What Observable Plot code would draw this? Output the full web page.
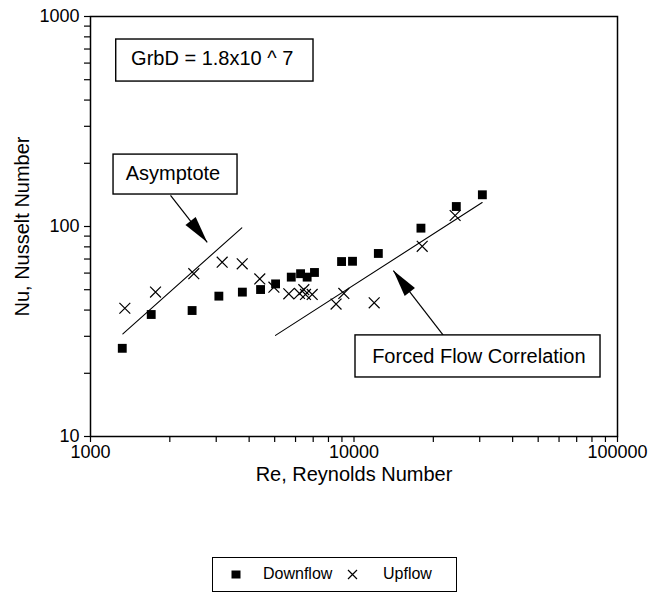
<!DOCTYPE html>
<html>
<head>
<meta charset="utf-8">
<script src="https://cdn.jsdelivr.net/npm/d3@7"></script>
<script src="https://cdn.jsdelivr.net/npm/@observablehq/plot@0.6"></script>
<style>
  html, body { margin: 0; padding: 0; background: #fff; }
  body { width: 664px; font-family: "Liberation Sans", Arial, Helvetica, sans-serif; }
  #legend { position: relative; margin: 57px 0 0 212px; width: 245px; height: 35px; border: 1.3px solid #000; box-sizing: border-box; font-size: 16px; color: #000; }
  #legend .t { position: absolute; top: 7px; }
  #legend svg { position: absolute; }
</style>
</head>
<body>
<div id="chart"></div>
<div id="legend">
  <svg style="left:18px;top:12px" width="10" height="9"><rect x="0.5" y="0.5" width="9" height="8" fill="#000"/></svg>
  <span class="t" style="left:50px">Downflow</span>
  <svg style="left:134px;top:11px" width="11" height="11"><path d="M1,1L10,10M10,1L1,10" stroke="#000" stroke-width="1.2"/></svg>
  <span class="t" style="left:170px">Upflow</span>
</div>
<script>
// ---- data ----
const downRe = [1320, 1700, 2430, 3070, 3770, 4420, 5040, 5780, 6270, 6640, 7080, 8970, 9870, 12370, 17950, 24450, 30700];
const downNu = [26.3, 38.1, 39.8, 46.6, 48.7, 50.1, 53.3, 57.4, 59.6, 57.4, 60.4, 68.1, 68.3, 74.4, 98.2, 124.5, 141.6];
const upRe = [1350, 1765, 2466, 3160, 3765, 4390, 4966, 5657, 6210, 6450, 6545, 6940, 8550, 9150, 11930, 18150, 24200];
const upNu = [40.8, 48.7, 59.6, 67.6, 66.4, 56.3, 51.4, 47.8, 48.0, 50.0, 47.5, 47.5, 42.7, 48.0, 43.3, 80.5, 112.8];

const asymRe = [1327, 3752];
const asymNu = [30.8, 98.6];
const forcedRe = [5036, 30650];
const forcedNu = [30.3, 130];

// annotation arrows: [fromRe, fromNu, toRe, toNu]
const arrowFromRe = [2012, 21800];
const arrowFromNu = [140.6, 30.4];
const arrowToRe = [2773, 14100];
const arrowToNu = [84.1, 61.7];

// annotation boxes
const boxText = ["GrbD = 1.8x10 ^ 7", "Asymptote", "Forced Flow Correlation"];
const boxTextRe = [2897, 2056, 29770];
const boxTextNu = [629, 178, 24.1];
const boxRe1 = [1252, 1223, 10132];
const boxRe2 = [7020, 3614, 86210];
const boxNu1 = [490, 142, 19.1];
const boxNu2 = [777, 220, 30.3];

// ticks
const xTicks = [1000,2000,3000,4000,5000,6000,7000,8000,9000,10000,20000,30000,40000,50000,60000,70000,80000,90000,100000];
const xTickLabels = [1000, 10000, 100000];
const yTicks = [10,20,30,40,50,60,70,80,90,100,200,300,400,500,600,700,800,900,1000];
const yTickLabels = [10, 100, 1000];

const xTitle = "Re, Reynolds Number";
const yTitle = "Nu, Nusselt Number";

// ---- build tables ----
const down = downRe.map((r, i) => ({Re: r, Nu: downNu[i]}));
const up = upRe.map((r, i) => ({Re: r, Nu: upNu[i]}));
const asym = asymRe.map((r, i) => ({Re: r, Nu: asymNu[i]}));
const forced = forcedRe.map((r, i) => ({Re: r, Nu: forcedNu[i]}));
const arrows = arrowFromRe.map((r, i) => ({x1: r, y1: arrowFromNu[i], x2: arrowToRe[i], y2: arrowToNu[i]}));
const boxes = boxText.map((t, i) => ({t, x: boxTextRe[i], y: boxTextNu[i], x1: boxRe1[i], x2: boxRe2[i], y1: boxNu1[i], y2: boxNu2[i]}));

function filledHead(color, context) {
  const doc = (context && context.document) || document;
  const ns = "http://www.w3.org/2000/svg";
  const m = doc.createElementNS(ns, "marker");
  m.setAttribute("viewBox", "-28 -8 30 16");
  m.setAttribute("markerWidth", 30);
  m.setAttribute("markerHeight", 16);
  m.setAttribute("markerUnits", "userSpaceOnUse");
  m.setAttribute("refX", 0);
  m.setAttribute("refY", 0);
  m.setAttribute("orient", "auto");
  const p = doc.createElementNS(ns, "path");
  p.setAttribute("d", "M0,0L-27,-6.5L-27,6.5Z");
  p.setAttribute("fill", "#000");
  p.setAttribute("stroke", "none");
  m.appendChild(p);
  return m;
}

const font = "'Liberation Sans', Arial, Helvetica, sans-serif";

const chart = Plot.plot({
  width: 664,
  height: 500,
  marginLeft: 90,
  marginRight: 47,
  marginTop: 16,
  marginBottom: 64,
  style: {fontFamily: font, fontSize: "18px", background: "#fff", color: "#000"},
  x: {type: "log", domain: [1000, 100000]},
  y: {type: "log", domain: [10, 1000]},
  marks: [
    Plot.axisX({ticks: xTicks, tickFormat: d => xTickLabels.includes(d) ? String(d) : "", tickSize: 6, tickPadding: 3, strokeWidth: 1.2, fontSize: 18, label: null}),
    Plot.axisY({ticks: yTicks, tickFormat: d => yTickLabels.includes(d) ? String(d) : "", tickSize: 6, tickPadding: 5, strokeWidth: 1.2, fontSize: 18, label: null}),
    Plot.frame({stroke: "#000", strokeWidth: 1.5}),
    Plot.line(asym, {x: "Re", y: "Nu", stroke: "#000", strokeWidth: 1.1}),
    Plot.line(forced, {x: "Re", y: "Nu", stroke: "#000", strokeWidth: 1.1}),
    Plot.dot(down, {x: "Re", y: "Nu", symbol: "square", r: 5, fill: "#000", stroke: "none"}),
    Plot.dot(up, {x: "Re", y: "Nu", symbol: "times", r: 5, stroke: "#000", strokeWidth: 1.2}),
    Plot.link(arrows, {x1: "x1", y1: "y1", x2: "x2", y2: "y2", stroke: "#000", strokeWidth: 1.2, markerEnd: filledHead}),
    Plot.rect(boxes, {x1: "x1", x2: "x2", y1: "y1", y2: "y2", fill: "#fff", stroke: "#000", strokeWidth: 1.4}),
    Plot.text(boxes, {x: "x", y: "y", text: "t", fontSize: 20, fill: "#000"}),
    Plot.text([xTitle], {frameAnchor: "bottom", dy: 44, textAnchor: "middle", fontSize: 20, fill: "#000"}),
    Plot.text([yTitle], {frameAnchor: "middle", dx: -331, rotate: -90, textAnchor: "middle", lineAnchor: "middle", fontSize: 20, fill: "#000"})
  ]
});
document.getElementById("chart").appendChild(chart);
</script>
</body>
</html>
